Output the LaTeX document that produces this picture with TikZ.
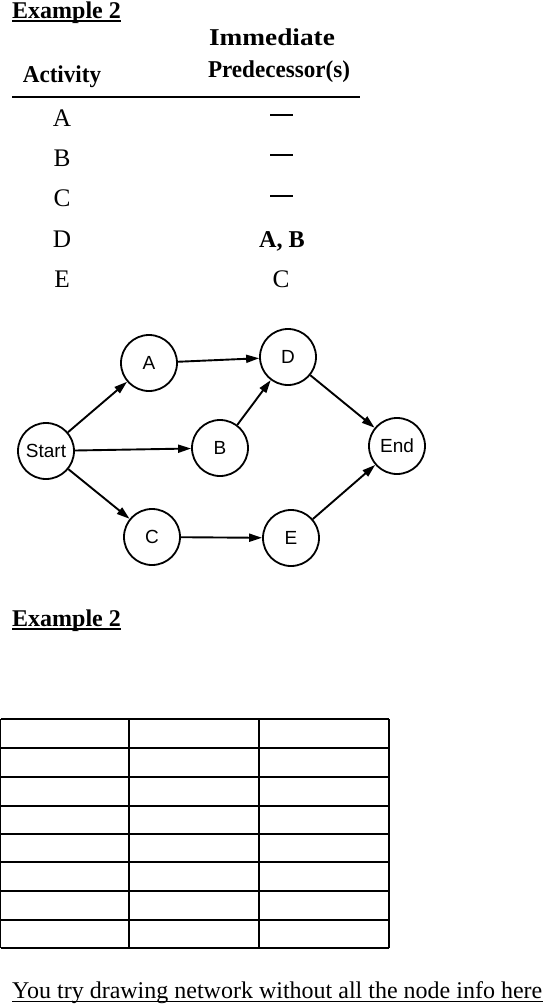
\documentclass[tikz,border=0pt]{standalone}
\usepackage{fontspec}
\setmainfont{Liberation Serif}
\newfontfamily\sansf{Liberation Sans}
\usetikzlibrary{arrows.meta}
\tikzset{
  title/.style={anchor=base west, inner sep=0pt, font=\fontsize{24}{28}\selectfont\bfseries},
  hdr/.style={anchor=base, inner sep=0pt, font=\fontsize{21}{24}\selectfont\bfseries},
  cell/.style={anchor=base, inner sep=0pt, font=\fontsize{23}{26}\selectfont},
  evt/.style={circle, draw, line width=1.8pt, minimum size=56pt, inner sep=0pt, font=\sansf\fontsize{19}{22}\selectfont},
  arr/.style={line width=1.9pt, -{Triangle[length=13pt,width=8pt]}},
  grid/.style={line width=1.3pt},
  uline/.style={line width=1.6pt},
  dashline/.style={line width=2pt}
}
\begin{document}
\begin{tikzpicture}[x=1pt,y=-1pt]
\useasboundingbox (0,0) rectangle (544,1005);
% --- top title
\node[title] (t1) at (12,18) {Example 2};
\draw[uline] ([yshift=-3pt]t1.base west) -- ([yshift=-3pt]t1.base east);
% --- scanned table
\node[hdr] (h1) at (62,82) {\scalebox{1.1}[1.15]{Activity}};
\node[hdr] (h2) at (272,45) {\scalebox{1.3}[1.15]{Immediate}};
\node[hdr] (h3) at (279,77) {\scalebox{1.1}[1.15]{Predecessor(s)}};
\coordinate (r1) at (12,97);
\coordinate (r2) at (360,97);
\draw[line width=2pt] (r1) -- (r2);
\node[cell] (a) at (62,126) {\scalebox{1.1}[1.1]{A}};
\node[cell] (b) at (62,166) {\scalebox{1.1}[1.1]{B}};
\node[cell] (c) at (62,206) {\scalebox{1.1}[1.1]{C}};
\node[cell] (d) at (62,247) {\scalebox{1.1}[1.1]{D}};
\node[cell] (e) at (62,287) {\scalebox{1.1}[1.1]{E}};
\coordinate (da1) at (270,115); \coordinate (da2) at (293,115);
\coordinate (db1) at (270,155); \coordinate (db2) at (293,155);
\coordinate (dc1) at (270,196); \coordinate (dc2) at (293,196);
\draw[dashline] (da1) -- (da2);
\draw[dashline] (db1) -- (db2);
\draw[dashline] (dc1) -- (dc2);
\node[hdr] (pd) at (282,247) {\scalebox{1.15}[1.15]{A, B}};
\node[cell] (pe) at (281,287) {\scalebox{1.1}[1.1]{C}};
% --- network
\node[evt] (S) at (46,451) {Start};
\node[evt] (A) at (149,363) {A};
\node[evt] (B) at (220,448) {B};
\node[evt] (C) at (152,537) {C};
\node[evt] (D) at (288,357) {D};
\node[evt] (E) at (291,538) {E};
\node[evt] (End) at (397,446) {End};
\draw[arr] (S) -- (A);
\draw[arr] (S) -- (B);
\draw[arr] (S) -- (C);
\draw[arr] (A) -- (D);
\draw[arr] (B) -- (D);
\draw[arr] (C) -- (E);
\draw[arr] (D) -- (End);
\draw[arr] (E) -- (End);
% --- second title
\node[title] (t2) at (12,626) {Example 2};
\draw[uline] ([yshift=-3pt]t2.base west) -- ([yshift=-3pt]t2.base east);
% --- empty grid
\foreach \y in {719,748,777,806,834,862,891,920,948}
  \draw[grid] (0.7,\y) -- (389,\y);
\foreach \x in {0.7,129,259,389}
  \draw[grid] (\x,719) -- (\x,948);
% --- bottom text
\node[anchor=base west, inner sep=0pt, font=\fontsize{24}{28}\selectfont] (bt) at (12,998) {You try drawing network without all the node info here};
\draw[line width=1.2pt] ([yshift=-3.5pt]bt.base west) -- ([yshift=-3.5pt]bt.base east);
\end{tikzpicture}
\end{document}
